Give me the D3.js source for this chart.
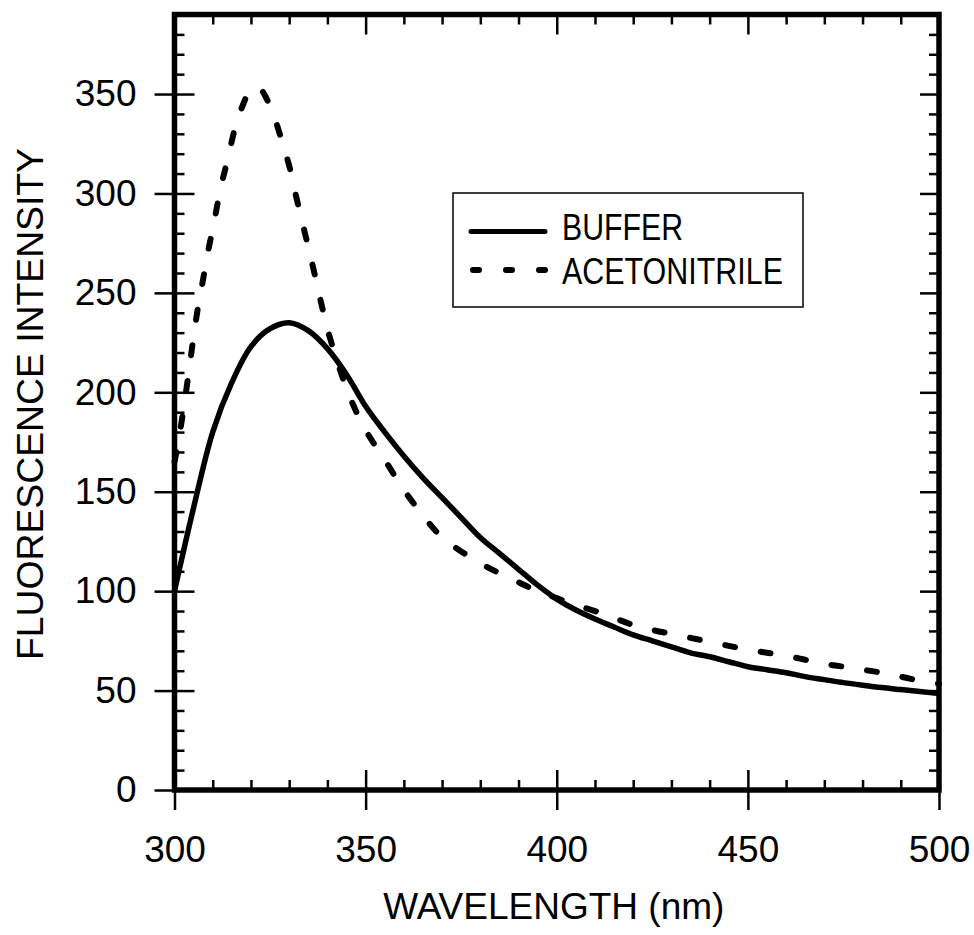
<!DOCTYPE html>
<html>
<head>
<meta charset="utf-8">
<script src="https://cdn.jsdelivr.net/npm/d3@7"></script>
<style>
  html, body { margin: 0; padding: 0; background: #fff; }
  svg { display: block; font-family: "Liberation Sans", Arial, Helvetica, sans-serif; }
</style>
</head>
<body>
<svg id="chart" width="974" height="935"></svg>
<script>
// Emission spectra: wavelength (nm) vs fluorescence intensity
const bufferWavelength = [300, 305, 310, 315, 320, 325, 330, 335, 340, 345, 350, 355, 360, 365, 370, 375, 380, 385, 390, 395, 400,
  405, 410, 415, 420, 425, 430, 435, 440, 445, 450, 455, 460, 465, 470, 475, 480, 485, 490, 495, 500];
const bufferIntensity = [100, 142, 180, 205, 223, 232, 235, 231, 222, 209, 193, 180, 168, 157, 147, 137, 127, 119, 111, 103, 96,
  90.5, 86, 82, 78, 75, 72, 69, 67, 64.5, 62, 60.5, 59, 57, 55.5, 54, 52.7, 51.5, 50.5, 49.5, 48.5];

const acnWavelength = [300, 301, 302, 303, 304, 305, 306, 307.5, 309, 310, 312, 314, 316, 318, 319.5, 321, 322.5, 324, 326, 328, 330,
  332, 334, 336, 338, 340, 343, 346, 350, 355, 360, 365, 370, 375, 380, 385, 390, 395, 400, 405, 410, 415, 420, 425, 430, 435,
  440, 445, 450, 455, 460, 465, 470, 475, 480, 485, 490, 495, 500];
const acnIntensity = [165, 175, 187, 200, 214, 228, 241, 257, 273, 282, 302, 318, 334, 345, 351, 353.5, 352.5, 348, 339, 327, 314,
  297, 281, 265, 248, 232, 213, 197, 181, 166, 151, 138, 127, 120, 114, 109, 104.5, 100, 96.5, 93, 90, 86.5, 83, 80.5, 78.5, 76.5,
  74.5, 72.5, 70.5, 69, 67.5, 65.5, 63.5, 62, 60.5, 59, 57, 55, 53.5];

const xMajorTicks = [300, 350, 400, 450, 500];
const yMajorTicks = [0, 50, 100, 150, 200, 250, 300, 350];
const xTitle = "WAVELENGTH (nm)";
const yTitle = "FLUORESCENCE INTENSITY";
const seriesNames = ["BUFFER", "ACETONITRILE"];

const svg = d3.select("#chart");
const plotLeft = 174.5, plotRight = 939, plotTop = 14.5, plotBottom = 790;

const x = d3.scaleLinear().domain([300, 500]).range([plotLeft, plotRight]);
const y = d3.scaleLinear().domain([0, 390]).range([plotBottom, plotTop]);

const xMinor = d3.range(300, 501, 10).filter(v => v % 50 !== 0);
const yMinor = d3.range(0, 391, 10).filter(v => v % 50 !== 0);

const tickFont = 37;

function styleAxis(g, width) {
  g.select(".domain").remove();
  g.selectAll(".tick line").attr("stroke", "#000").attr("stroke-width", width);
}

// Left axis: major ticks cross the frame, labels outside
svg.append("g").attr("transform", `translate(${plotLeft},0)`)
  .call(d3.axisLeft(y).tickValues(yMajorTicks).tickSize(20).tickPadding(18).tickFormat(d3.format("d")))
  .call(g => styleAxis(g, 2.5))
  .call(g => g.selectAll("text").attr("font-size", tickFont).attr("fill", "#000").attr("font-family", "Liberation Sans, Arial, sans-serif"));
svg.append("g").attr("transform", `translate(${plotLeft},0)`)
  .call(d3.axisRight(y).tickValues(yMajorTicks).tickSize(20).tickFormat(""))
  .call(g => styleAxis(g, 2.5));
svg.append("g").attr("transform", `translate(${plotLeft},0)`)
  .call(d3.axisRight(y).tickValues(yMinor).tickSize(10).tickFormat(""))
  .call(g => styleAxis(g, 2.5));

// Right axis: inward ticks only
svg.append("g").attr("transform", `translate(${plotRight},0)`)
  .call(d3.axisLeft(y).tickValues(yMajorTicks).tickSize(19).tickFormat(""))
  .call(g => styleAxis(g, 2.5));
svg.append("g").attr("transform", `translate(${plotRight},0)`)
  .call(d3.axisLeft(y).tickValues(yMinor).tickSize(10).tickFormat(""))
  .call(g => styleAxis(g, 2.5));

// Bottom axis: major ticks cross the frame, labels below
svg.append("g").attr("transform", `translate(0,${plotBottom})`)
  .call(d3.axisBottom(x).tickValues(xMajorTicks).tickSize(20).tickPadding(26).tickFormat(d3.format("d")))
  .call(g => styleAxis(g, 2.5))
  .call(g => g.selectAll("text").attr("font-size", tickFont).attr("fill", "#000").attr("font-family", "Liberation Sans, Arial, sans-serif"));
svg.append("g").attr("transform", `translate(0,${plotBottom})`)
  .call(d3.axisTop(x).tickValues(xMajorTicks).tickSize(20).tickFormat(""))
  .call(g => styleAxis(g, 2.5));
svg.append("g").attr("transform", `translate(0,${plotBottom})`)
  .call(d3.axisTop(x).tickValues(xMinor).tickSize(10).tickFormat(""))
  .call(g => styleAxis(g, 2.5));

// Top axis: inward ticks only
svg.append("g").attr("transform", `translate(0,${plotTop})`)
  .call(d3.axisBottom(x).tickValues(xMajorTicks).tickSize(20).tickFormat(""))
  .call(g => styleAxis(g, 2.5));
svg.append("g").attr("transform", `translate(0,${plotTop})`)
  .call(d3.axisBottom(x).tickValues(xMinor).tickSize(10).tickFormat(""))
  .call(g => styleAxis(g, 2.5));

// Spectra
const line = d3.line().x(d => x(d[0])).y(d => y(d[1])).curve(d3.curveCatmullRom.alpha(0.5));
const bufferData = bufferWavelength.map((w, i) => [w, bufferIntensity[i]]);
const acnData = acnWavelength.map((w, i) => [w, acnIntensity[i]]);

svg.append("path").datum(bufferData).attr("d", line)
  .attr("fill", "none").attr("stroke", "#000").attr("stroke-width", 5.5)
  .attr("stroke-linejoin", "round").attr("stroke-linecap", "butt");
svg.append("path").datum(acnData).attr("d", line)
  .attr("fill", "none").attr("stroke", "#000").attr("stroke-width", 6)
  .attr("stroke-dasharray", "10,26").attr("stroke-linecap", "round");

// Plot frame
svg.append("rect").attr("x", plotLeft).attr("y", plotTop)
  .attr("width", plotRight - plotLeft).attr("height", plotBottom - plotTop)
  .attr("fill", "none").attr("stroke", "#000").attr("stroke-width", 5.5);

// Legend
const legend = svg.append("g");
legend.append("rect").attr("x", 453).attr("y", 193).attr("width", 350).attr("height", 114)
  .attr("fill", "#fff").attr("stroke", "#000").attr("stroke-width", 1.5);
legend.append("line").attr("x1", 471).attr("x2", 545).attr("y1", 231.5).attr("y2", 231.5)
  .attr("stroke", "#000").attr("stroke-width", 5).attr("stroke-linecap", "round");
legend.append("line").attr("x1", 473).attr("x2", 545).attr("y1", 270).attr("y2", 270)
  .attr("stroke", "#000").attr("stroke-width", 6).attr("stroke-dasharray", "6,27").attr("stroke-linecap", "round");
const legendText = [[seriesNames[0], 239.5, 121], [seriesNames[1], 284, 221]];
legendText.forEach(([t, by, len]) => {
  legend.append("text").attr("x", 562).attr("y", by).attr("font-size", 37)
    .attr("textLength", len).attr("lengthAdjust", "spacingAndGlyphs").text(t);
});

// Axis titles
svg.append("text").attr("x", (plotLeft + plotRight) / 2 - 3).attr("y", 919)
  .attr("text-anchor", "middle").attr("font-size", 37).text(xTitle);
svg.append("text").attr("transform", "translate(43,404) rotate(-90)")
  .attr("text-anchor", "middle").attr("font-size", 37)
  .attr("textLength", 512).attr("lengthAdjust", "spacingAndGlyphs").text(yTitle);
</script>
</body>
</html>
